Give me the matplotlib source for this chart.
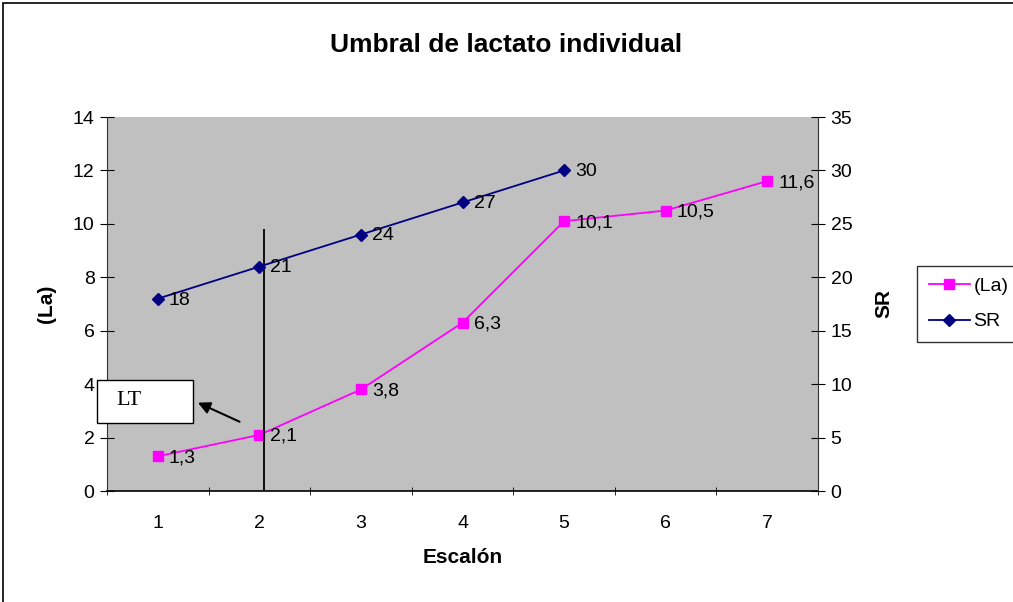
import matplotlib.pyplot as plt
from matplotlib.patches import Rectangle

plt.rcParams['font.family'] = ['Liberation Sans', 'DejaVu Sans']

escalon = [1, 2, 3, 4, 5, 6, 7]
la = [1.3, 2.1, 3.8, 6.3, 10.1, 10.5, 11.6]
la_labels = ["1,3", "2,1", "3,8", "6,3", "10,1", "10,5", "11,6"]
sr_x = [1, 2, 3, 4, 5]
sr = [18, 21, 24, 27, 30]
lt_x = 2.05

W, H = 1013, 602
fig = plt.figure(figsize=(W / 100, H / 100), dpi=100)
fig.patches.append(Rectangle((3 / W, -0.1), 1.2, (H - 3) / H + 0.1, transform=fig.transFigure,
                             fill=False, edgecolor='black', linewidth=1.2))

ax = fig.add_axes([107 / W, 1 - 491 / H, (818 - 107) / W, (491 - 117) / H])
ax.set_facecolor('#C0C0C0')
ax2 = ax.twinx()

fs = 14
l1, = ax.plot(escalon, la, color='#FF00FF', marker='s', markersize=7, linewidth=1.3, label='(La)')
for x, y, t in zip(escalon, la, la_labels):
    ax.annotate(t, (x, y), xytext=(8, -1), textcoords='offset points', fontsize=fs, va='center')

l2, = ax2.plot(sr_x, sr, color='#000080', marker='D', markersize=6, linewidth=1.3, label='SR')
for x, y in zip(sr_x, sr):
    ax2.annotate(str(y), (x, y), xytext=(8, -1), textcoords='offset points', fontsize=fs, va='center')

ax.set_xlim(0.5, 7.5)
ax.set_ylim(0, 14)
ax2.set_ylim(0, 35)
ax.set_yticks(range(0, 15, 2))
ax2.set_yticks(range(0, 36, 5))
ax.set_xticks(escalon)
ax.set_xticks([i + 0.5 for i in range(0, 8)], minor=True)
ax.tick_params(axis='x', which='major', length=0, pad=17, labelsize=fs)
ax.tick_params(axis='x', which='minor', length=6, direction='inout')
ax.tick_params(axis='y', length=10, direction='inout', labelsize=fs, pad=4)
ax2.tick_params(axis='y', length=10, direction='inout', labelsize=fs, pad=4)
ax.spines['top'].set_visible(False)
ax2.spines['top'].set_visible(False)
ax.spines['right'].set_visible(False)
ax2.spines['left'].set_visible(False)
ax2.spines['bottom'].set_visible(False)
ax.spines['left'].set_color('#333333')
ax2.spines['right'].set_color('#333333')
ax.spines['bottom'].set_linewidth(1.2)

ax.vlines(lt_x, 0.05, 9.8, color='black', linewidth=1.3)

ax.add_patch(Rectangle((0.40, 2.55), 0.945, 1.6, facecolor='white', edgecolor='black',
                       linewidth=1, clip_on=False, zorder=4))
ax.text(0.72, 3.4, 'LT', fontsize=16, family='Liberation Serif', va='center', ha='center',
        zorder=5)
ax.annotate('', xy=(1.37, 3.35), xytext=(1.83, 2.55),
            arrowprops=dict(arrowstyle='-|>', color='black', lw=1.5, mutation_scale=18))

ax.set_xlabel('Escalón', fontsize=15, fontweight='bold', labelpad=12)
ax.set_ylabel('(La)', fontsize=15, fontweight='bold', labelpad=12)
ax2.set_ylabel('SR', fontsize=15, fontweight='bold', labelpad=16)
fig.text(0.5, 1 - 45 / H, 'Umbral de lactato individual', ha='center', va='center',
         fontsize=19, fontweight='bold')

leg = fig.legend([l1, l2], ['(La)', 'SR'], loc='upper left', bbox_to_anchor=(917 / W, 1 - 266 / H),
                 fontsize=fs, frameon=True, fancybox=False, edgecolor='black', borderaxespad=0,
                 handlelength=2.1, borderpad=0.6, labelspacing=0.9, handletextpad=0.2)
leg.get_frame().set_linewidth(1)

fig.savefig('out.png', dpi=100)
